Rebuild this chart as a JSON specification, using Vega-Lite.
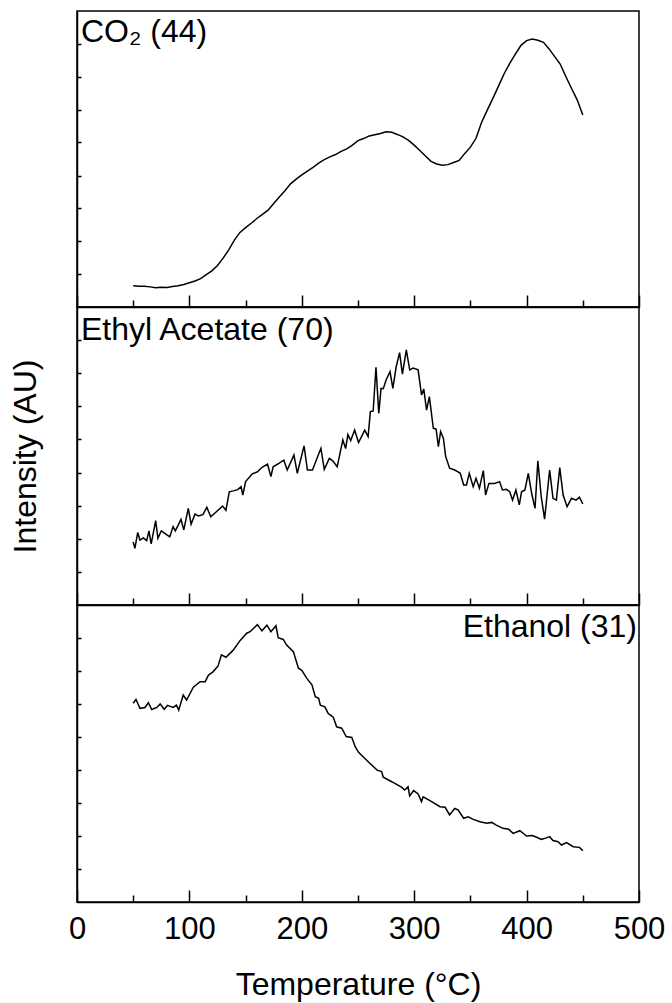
{
  "$schema": "https://vega.github.io/schema/vega-lite/v6.json",
  "background": "white",
  "padding": {"left": 8, "top": 10, "right": 5, "bottom": 5},
  "spacing": 0,
  "bounds": "flush",
  "config": {
    "view": {"stroke": "black", "strokeWidth": 1.5},
    "font": "Liberation Sans",
    "title": {"font": "Liberation Sans", "fontSize": 32, "fontWeight": "normal", "color": "black"},
    "axis": {
      "grid": false,
      "domainColor": "black",
      "domainWidth": 1.5,
      "tickColor": "black",
      "tickWidth": 1.5,
      "labelFont": "Liberation Sans",
      "labelFontSize": 31,
      "labelColor": "black",
      "labelFlush": false,
      "labelOverlap": false,
      "titleFont": "Liberation Sans",
      "titleFontSize": 32,
      "titleFontWeight": "normal",
      "titleColor": "black"
    }
  },
  "datasets": {
    "co2": [
      {"T": 50, "v": 7.2}, {"T": 55, "v": 7.0}, {"T": 60, "v": 7.0}, {"T": 65, "v": 6.8},
      {"T": 70, "v": 6.5}, {"T": 75, "v": 6.7}, {"T": 80, "v": 6.6}, {"T": 85, "v": 6.9},
      {"T": 90, "v": 7.2}, {"T": 95, "v": 7.6}, {"T": 100, "v": 8.2}, {"T": 105, "v": 8.8},
      {"T": 110, "v": 9.6}, {"T": 115, "v": 10.9}, {"T": 120, "v": 12.2}, {"T": 125, "v": 14.0},
      {"T": 130, "v": 16.5}, {"T": 135, "v": 19.3}, {"T": 140, "v": 22.6}, {"T": 145, "v": 25.2},
      {"T": 150, "v": 26.8}, {"T": 155, "v": 28.3}, {"T": 160, "v": 29.9}, {"T": 165, "v": 31.3},
      {"T": 170, "v": 32.7}, {"T": 175, "v": 35.0}, {"T": 180, "v": 37.2}, {"T": 185, "v": 39.3},
      {"T": 190, "v": 41.6}, {"T": 195, "v": 43.2}, {"T": 200, "v": 44.6}, {"T": 205, "v": 45.9},
      {"T": 210, "v": 47.2}, {"T": 215, "v": 48.6}, {"T": 220, "v": 49.8}, {"T": 225, "v": 50.7},
      {"T": 230, "v": 51.5}, {"T": 235, "v": 52.6}, {"T": 240, "v": 53.4}, {"T": 245, "v": 54.7},
      {"T": 250, "v": 56.2}, {"T": 255, "v": 56.9}, {"T": 260, "v": 57.8}, {"T": 265, "v": 58.2},
      {"T": 270, "v": 58.6}, {"T": 275, "v": 59.2}, {"T": 280, "v": 59.0}, {"T": 285, "v": 58.3},
      {"T": 290, "v": 57.5}, {"T": 295, "v": 56.3}, {"T": 300, "v": 54.7}, {"T": 305, "v": 52.9},
      {"T": 310, "v": 51.0}, {"T": 315, "v": 49.2}, {"T": 320, "v": 48.3}, {"T": 325, "v": 47.9},
      {"T": 330, "v": 48.1}, {"T": 335, "v": 48.8}, {"T": 340, "v": 49.5}, {"T": 345, "v": 51.9},
      {"T": 350, "v": 54.0}, {"T": 355, "v": 57.0}, {"T": 360, "v": 62.4}, {"T": 365, "v": 66.5},
      {"T": 370, "v": 70.5}, {"T": 375, "v": 74.6}, {"T": 380, "v": 78.8}, {"T": 385, "v": 82.3},
      {"T": 390, "v": 85.4}, {"T": 395, "v": 88.4}, {"T": 400, "v": 90.0}, {"T": 405, "v": 90.5},
      {"T": 410, "v": 90.1}, {"T": 415, "v": 89.4}, {"T": 420, "v": 87.2}, {"T": 425, "v": 84.6},
      {"T": 430, "v": 82.0}, {"T": 435, "v": 77.8}, {"T": 440, "v": 73.8}, {"T": 445, "v": 70.0},
      {"T": 450, "v": 64.9}
    ],
    "ethylAcetate": [
      {"T": 50, "v": 21.2}, {"T": 51.5, "v": 19.0}, {"T": 54, "v": 24.3}, {"T": 56, "v": 21.8},
      {"T": 59, "v": 22.5}, {"T": 62, "v": 21.6}, {"T": 64, "v": 24.9}, {"T": 66, "v": 20.5},
      {"T": 70, "v": 28.3}, {"T": 72, "v": 22.4}, {"T": 75, "v": 24.9}, {"T": 79, "v": 23.8},
      {"T": 82.5, "v": 22.9}, {"T": 85.5, "v": 26.3}, {"T": 87.5, "v": 24.9}, {"T": 92.5, "v": 28.7},
      {"T": 95, "v": 25.2}, {"T": 99, "v": 32.4}, {"T": 101.5, "v": 27.1}, {"T": 105, "v": 30.5},
      {"T": 108, "v": 29.9}, {"T": 112, "v": 30.3}, {"T": 115.5, "v": 32.8}, {"T": 119, "v": 29.6},
      {"T": 124, "v": 31.3}, {"T": 129.5, "v": 33.2}, {"T": 132.5, "v": 31.8}, {"T": 135.5, "v": 38.0},
      {"T": 139, "v": 38.3}, {"T": 143, "v": 38.7}, {"T": 146, "v": 39.7}, {"T": 147.5, "v": 36.9},
      {"T": 150, "v": 41.4}, {"T": 156, "v": 44.0}, {"T": 160.5, "v": 44.7}, {"T": 165, "v": 46.3},
      {"T": 169.5, "v": 47.3}, {"T": 172.5, "v": 43.1}, {"T": 174.5, "v": 46.4}, {"T": 180, "v": 47.6},
      {"T": 184, "v": 48.6}, {"T": 187, "v": 45.3}, {"T": 193, "v": 50.3}, {"T": 196, "v": 44.2},
      {"T": 202, "v": 53.4}, {"T": 205, "v": 45.3}, {"T": 209.5, "v": 45.3}, {"T": 217, "v": 52.6},
      {"T": 220, "v": 45.5}, {"T": 224.5, "v": 49.2}, {"T": 227.5, "v": 48.4}, {"T": 231.5, "v": 46.4},
      {"T": 236.5, "v": 55.4}, {"T": 239, "v": 52.5}, {"T": 241, "v": 57.2}, {"T": 243.5, "v": 55.2},
      {"T": 247, "v": 58.7}, {"T": 250.5, "v": 54.5}, {"T": 256, "v": 58.7}, {"T": 259, "v": 56.5},
      {"T": 261, "v": 64.9}, {"T": 263.5, "v": 65.1}, {"T": 266, "v": 79.8}, {"T": 268.5, "v": 64.3},
      {"T": 270.5, "v": 72.7}, {"T": 272.5, "v": 72.6}, {"T": 275, "v": 75.5}, {"T": 278.5, "v": 78.3},
      {"T": 281, "v": 72.7}, {"T": 284, "v": 80.0}, {"T": 287, "v": 84.7}, {"T": 289.5, "v": 77.5},
      {"T": 293, "v": 85.6}, {"T": 296, "v": 78.9}, {"T": 299, "v": 79.5}, {"T": 303.5, "v": 78.9},
      {"T": 306.5, "v": 70.5}, {"T": 308.5, "v": 72.5}, {"T": 311, "v": 65.4}, {"T": 313.5, "v": 69.9},
      {"T": 317, "v": 59.3}, {"T": 319.5, "v": 59.0}, {"T": 321.5, "v": 53.1}, {"T": 323.5, "v": 58.2},
      {"T": 326, "v": 55.9}, {"T": 328, "v": 49.8}, {"T": 331.5, "v": 45.9}, {"T": 336, "v": 45.3},
      {"T": 339, "v": 44.7}, {"T": 341, "v": 44.2}, {"T": 344, "v": 40.3}, {"T": 346.5, "v": 40.3},
      {"T": 349, "v": 44.2}, {"T": 352.5, "v": 39.7}, {"T": 355, "v": 42.5}, {"T": 358, "v": 39.2},
      {"T": 361.5, "v": 45.1}, {"T": 363.5, "v": 36.9}, {"T": 366.5, "v": 40.8}, {"T": 371.5, "v": 40.8},
      {"T": 376, "v": 41.4}, {"T": 378.5, "v": 38.6}, {"T": 382, "v": 38.8}, {"T": 385, "v": 38.0},
      {"T": 387.5, "v": 35.2}, {"T": 390.5, "v": 38.6}, {"T": 393.5, "v": 33.6}, {"T": 395.5, "v": 38.0},
      {"T": 398.5, "v": 38.6}, {"T": 401.5, "v": 44.2}, {"T": 404.5, "v": 37.5}, {"T": 407.5, "v": 32.4},
      {"T": 410, "v": 48.4}, {"T": 413, "v": 36.4}, {"T": 416, "v": 28.8}, {"T": 420.5, "v": 45.3},
      {"T": 423.5, "v": 35.8}, {"T": 426.5, "v": 35.2}, {"T": 429.5, "v": 46.1}, {"T": 432.5, "v": 36.9},
      {"T": 436, "v": 33.0}, {"T": 440, "v": 35.8}, {"T": 444, "v": 35.2}, {"T": 447, "v": 36.2},
      {"T": 450, "v": 33.9}
    ],
    "ethanol": [
      {"T": 50, "v": 66.9}, {"T": 52.5, "v": 68.2}, {"T": 56, "v": 65.2}, {"T": 60.5, "v": 65.5},
      {"T": 63.5, "v": 67.1}, {"T": 66.5, "v": 64.8}, {"T": 71, "v": 65.5}, {"T": 74, "v": 66.7},
      {"T": 77.5, "v": 64.9}, {"T": 80.5, "v": 66.2}, {"T": 85.5, "v": 65.5}, {"T": 88.5, "v": 66.3},
      {"T": 90.5, "v": 64.6}, {"T": 94.5, "v": 69.7}, {"T": 97.5, "v": 68.0}, {"T": 103.5, "v": 72.3},
      {"T": 109.5, "v": 74.2}, {"T": 114, "v": 74.2}, {"T": 117, "v": 76.4}, {"T": 121, "v": 77.5},
      {"T": 125.5, "v": 79.5}, {"T": 128.5, "v": 83.2}, {"T": 132.5, "v": 82.4}, {"T": 139, "v": 84.8},
      {"T": 145, "v": 88.0}, {"T": 151, "v": 90.5}, {"T": 154, "v": 91.0}, {"T": 157, "v": 92.1},
      {"T": 160.5, "v": 93.4}, {"T": 164.5, "v": 91.3}, {"T": 169, "v": 93.2}, {"T": 172.5, "v": 91.0},
      {"T": 177, "v": 93.0}, {"T": 179, "v": 89.0}, {"T": 183.5, "v": 88.4}, {"T": 186.5, "v": 86.5},
      {"T": 192.5, "v": 84.3}, {"T": 197, "v": 78.7}, {"T": 200, "v": 78.0}, {"T": 204.5, "v": 75.3},
      {"T": 209, "v": 73.1}, {"T": 212, "v": 69.1}, {"T": 215, "v": 68.6}, {"T": 216.5, "v": 66.3},
      {"T": 220.5, "v": 65.7}, {"T": 223.5, "v": 63.5}, {"T": 228, "v": 62.2}, {"T": 231, "v": 59.0},
      {"T": 235.5, "v": 58.5}, {"T": 239.5, "v": 55.7}, {"T": 244.5, "v": 55.4}, {"T": 247.5, "v": 52.3},
      {"T": 250.5, "v": 50.4}, {"T": 254.5, "v": 48.9}, {"T": 260.5, "v": 46.7}, {"T": 267, "v": 44.4},
      {"T": 271, "v": 43.9}, {"T": 272.5, "v": 42.0}, {"T": 280, "v": 40.5}, {"T": 289, "v": 38.6},
      {"T": 291.5, "v": 37.7}, {"T": 294.5, "v": 38.8}, {"T": 296, "v": 35.7}, {"T": 299.5, "v": 37.5},
      {"T": 303.5, "v": 36.4}, {"T": 306.5, "v": 33.8}, {"T": 308, "v": 35.4}, {"T": 314, "v": 34.1},
      {"T": 323, "v": 32.1}, {"T": 327.5, "v": 31.9}, {"T": 331.5, "v": 29.3}, {"T": 336, "v": 31.5},
      {"T": 339, "v": 31.0}, {"T": 344, "v": 28.2}, {"T": 348, "v": 28.7}, {"T": 352.5, "v": 27.8},
      {"T": 358.5, "v": 27.0}, {"T": 364.5, "v": 26.5}, {"T": 369, "v": 26.8}, {"T": 373, "v": 25.9},
      {"T": 379, "v": 24.8}, {"T": 384, "v": 24.5}, {"T": 388, "v": 23.1}, {"T": 394, "v": 24.0},
      {"T": 400, "v": 22.2}, {"T": 405, "v": 22.4}, {"T": 409, "v": 21.8}, {"T": 413, "v": 21.1},
      {"T": 417, "v": 21.5}, {"T": 420.5, "v": 22.0}, {"T": 423.5, "v": 20.7}, {"T": 428, "v": 20.3},
      {"T": 431, "v": 19.2}, {"T": 435.5, "v": 20.0}, {"T": 441.5, "v": 18.6}, {"T": 447, "v": 18.4},
      {"T": 450, "v": 17.3}
    ]
  },
  "vconcat": [
    {
      "width": 562,
      "height": 296,
      "title": {"text": "CO₂ (44)", "orient": "top", "anchor": "start", "frame": "group", "offset": -63, "baseline": "alphabetic", "dx": 4},
      "data": {"name": "co2"},
      "mark": {"type": "line", "color": "black", "strokeWidth": 1.5},
      "encoding": {
        "x": {"field": "T", "type": "quantitative", "scale": {"domain": [0, 500], "nice": false},
          "axis": {"title": null, "labels": false, "tickSize": -12, "tickColor": "black", "tickWidth": 1.5,
            "tickDash": {"condition": {"test": "datum.value % 100 !== 0", "value": [7, 30]}, "value": []},
            "values": [0, 50, 100, 150, 200, 250, 300, 350, 400, 450, 500]}},
        "y": {"field": "v", "type": "quantitative", "scale": {"domain": [0, 100], "nice": false},
          "axis": {"title": null, "labels": false, "tickSize": -4,
            "values": [11.1, 22.2, 33.3, 44.4, 55.6, 66.7, 77.8, 88.9]}}
      }
    },
    {
      "width": 562,
      "height": 298,
      "title": {"text": "Ethyl Acetate (70)", "orient": "top", "anchor": "start", "frame": "group", "offset": -65, "baseline": "alphabetic", "dx": 4},
      "data": {"name": "ethylAcetate"},
      "mark": {"type": "line", "color": "black", "strokeWidth": 1.5},
      "encoding": {
        "x": {"field": "T", "type": "quantitative", "scale": {"domain": [0, 500], "nice": false},
          "axis": {"title": null, "labels": false, "tickSize": -12, "tickColor": "black", "tickWidth": 1.5,
            "tickDash": {"condition": {"test": "datum.value % 100 !== 0", "value": [7, 30]}, "value": []},
            "values": [0, 50, 100, 150, 200, 250, 300, 350, 400, 450, 500]}},
        "y": {"field": "v", "type": "quantitative", "scale": {"domain": [0, 100], "nice": false},
          "axis": {"title": "Intensity (AU)", "titlePadding": 34, "labels": false, "tickSize": -4,
            "values": [11.1, 22.2, 33.3, 44.4, 55.6, 66.7, 77.8, 88.9]}}
      }
    },
    {
      "width": 562,
      "height": 297,
      "title": {"text": "Ethanol (31)", "orient": "top", "anchor": "end", "frame": "group", "offset": -64, "baseline": "alphabetic", "dx": -2},
      "data": {"name": "ethanol"},
      "mark": {"type": "line", "color": "black", "strokeWidth": 1.5},
      "encoding": {
        "x": {"field": "T", "type": "quantitative", "scale": {"domain": [0, 500], "nice": false},
          "axis": {"title": "Temperature (°C)", "labelPadding": 24, "titlePadding": 25,
            "tickSize": -12, "tickColor": "black", "tickWidth": 1.5,
            "tickDash": {"condition": {"test": "datum.value % 100 !== 0", "value": [7, 30]}, "value": []},
            "labelExpr": "datum.value % 100 === 0 ? datum.label : ''",
            "values": [0, 50, 100, 150, 200, 250, 300, 350, 400, 450, 500]}},
        "y": {"field": "v", "type": "quantitative", "scale": {"domain": [0, 100], "nice": false},
          "axis": {"title": null, "labels": false, "tickSize": -4,
            "values": [11.1, 22.2, 33.3, 44.4, 55.6, 66.7, 77.8, 88.9]}}
      }
    }
  ]
}
